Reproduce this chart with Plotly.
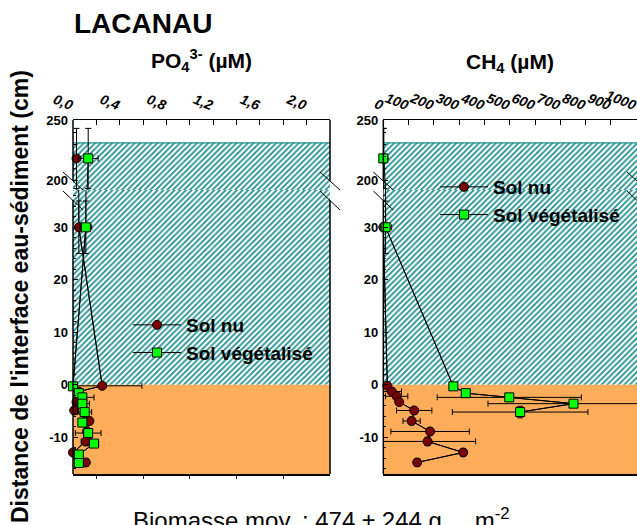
import numpy as np
import plotly.graph_objects as go

# ------------------------------------------------------------------ data
series_names = ["Sol nu", "Sol végétalisé"]

depth_nu = [218, 30, -0.2, -1.3, -2.2, -3.3, -4.9, -6.9, -8.9, -10.8, -12.9, -14.8]
depth_nu_err = [25, 5, 0, 0.3, 0.3, 0.3, 0.7, 0.7, 0.7, 0.8, 0.7, 0.7]
po4_nu = [0.03, 0.05, 0.25, 0.05, 0.07, 0.03, 0.01, 0.14, 0.12, 0.11, 0.0, 0.11]
po4_nu_err = [0, 0, 0.34, 0.02, 0.02, 0.02, 0.02, 0.02, 0.02, 0.04, 0.02, 0.02]
ch4_nu = [2, 0, 16, 34, 53, 63, 122, 112, 185, 175, 316, 134]
ch4_nu_err = [0, 0, 0, 38, 44, 0, 70, 34, 155, 190, 0, 0]

depth_veg = [218, 30, -0.3, -1.6, -2.4, -3.6, -5.2, -7.2, -9.2, -11.2, -13.3, -14.9]
depth_veg_err = [25, 5, 0, 0, 0, 0, 1.1, 0, 0, 0, 0, 0]
po4_veg = [0.13, 0.11, 0.0, 0.05, 0.08, 0.08, 0.10, 0.08, 0.13, 0.18, 0.05, 0.05]
po4_veg_err = [0.085, 0.05, 0, 0.03, 0.10, 0.06, 0.06, 0.03, 0.11, 0.04, 0.03, 0.02]
ch4_veg = [0, 9, 277, 326, 498, 752, 541, None, None, None, None, None]
ch4_veg_err = [0, 24, 0, 0, 285, 338, 268, None, None, None, None, None]

water_surface = 231      # cm above the sediment interface
sediment_bottom = -17    # cm

po4_ticks = [0.0, 0.4, 0.8, 1.2, 1.6, 2.0]
po4_ticklabels = ["0,0", "0,4", "0,8", "1,2", "1,6", "2,0"]
ch4_ticks = [0, 100, 200, 300, 400, 500, 600, 700, 800, 900, 1000]
ch4_ticklabels = ["0", "100", "200", "300", "400", "500", "600", "700", "800", "900", "1000"]
water_yticks = [200, 250]
sed_yticks = [-10, 0, 10, 20, 30]

# ------------------------------------------------------------------ layout helpers
W, H = 637, 525
def px_x(p):
    return p / W
def px_y(p):
    return 1 - p / H

FONT = "Liberation Sans, Arial, sans-serif"
RED = "#7A0000"
GREEN = "#00FF00"
ORANGE = "#FFAD5B"
TEAL = "#1F8F8F"

po4_range = [0, 2.2]
ch4_range = [0, 1003]
water_range = [191.7, 250]
sed_range = [sediment_bottom, 37.1]

panels = {
    "po4": dict(xdom=[px_x(73), px_x(330)], xr=po4_range, top=("x", "y"), bot=("x2", "y2")),
    "ch4": dict(xdom=[px_x(383.3), 1.0], xr=ch4_range, top=("x3", "y3"), bot=("x4", "y4")),
}
top_dom = [px_y(190), px_y(120)]
bot_dom = [px_y(474), px_y(190)]

fig = go.Figure()

# backgrounds: hatched water column, orange sediment
for key, p in panels.items():
    x0, x1 = p["xr"]
    for (xa, ya), yr in ((p["top"], water_range), (p["bot"], sed_range)):
        lo = max(yr[0], 0)
        hi = min(yr[1], water_surface)
        if hi > lo:
            fig.add_trace(go.Scatter(
                x=[x0, x1, x1, x0, x0], y=[lo, lo, hi, hi, lo], mode="lines",
                fill="toself", line=dict(width=0), fillcolor="white",
                fillpattern=dict(shape="/", fgcolor=TEAL, bgcolor="white", size=4, solidity=0.45),
                xaxis=xa, yaxis=ya, showlegend=False, hoverinfo="skip"))
        if yr[0] < 0:
            fig.add_trace(go.Scatter(
                x=[x0, x1, x1, x0, x0], y=[yr[0], yr[0], 0, 0, yr[0]], mode="lines",
                fill="toself", line=dict(width=0), fillcolor=ORANGE,
                xaxis=xa, yaxis=ya, showlegend=False, hoverinfo="skip"))
        if yr[0] <= water_surface <= yr[1]:
            fig.add_trace(go.Scatter(
                x=[x0, x1], y=[water_surface, water_surface], mode="lines",
                line=dict(color=TEAL, width=1.2), xaxis=xa, yaxis=ya,
                showlegend=False, hoverinfo="skip"))

def add_series(key, xs, xerr, ys, yerr, name, color, symbol, legend):
    p = panels[key]
    xs_a = np.array([np.nan if v is None else v for v in xs], dtype=float)
    xe_a = np.array([0 if v is None else v for v in xerr], dtype=float)
    ys_a = np.array(ys, dtype=float)
    ye_a = np.array(yerr, dtype=float)
    for (xa, ya), yr, part in ((p["top"], water_range, "top"), (p["bot"], sed_range, "bot")):
        # full line, clipped to subplot
        fig.add_trace(go.Scatter(x=xs_a, y=ys_a, mode="lines", line=dict(color="black", width=1),
                                 xaxis=xa, yaxis=ya, showlegend=False, hoverinfo="skip",
                                 connectgaps=False))
        m = (ys_a >= yr[0]) & (ys_a <= yr[1]) & ~np.isnan(xs_a)
        fig.add_trace(go.Scatter(
            x=xs_a[m], y=ys_a[m], mode="markers",
            marker=dict(size=1, color="rgba(0,0,0,0)"),
            error_x=dict(type="data", array=xe_a[m], color="black", thickness=1, width=3),
            error_y=dict(type="data", array=ye_a[m], color="black", thickness=1, width=3),
            xaxis=xa, yaxis=ya, showlegend=False, hoverinfo="skip", cliponaxis=True))
        fig.add_trace(go.Scatter(
            x=xs_a[m], y=ys_a[m], mode="lines+markers", name=name,
            line=dict(color="black", width=1),
            marker=dict(size=9, symbol=symbol, color=color, line=dict(color="black", width=1)),
            xaxis=xa, yaxis=ya, cliponaxis=False, legend=legend,
            showlegend=(part == "bot")))

add_series("po4", po4_nu, po4_nu_err, depth_nu, depth_nu_err, series_names[0], RED, "circle", "legend")
add_series("po4", po4_veg, po4_veg_err, depth_veg, depth_veg_err, series_names[1], GREEN, "square", "legend")
add_series("ch4", ch4_nu, ch4_nu_err, depth_nu, depth_nu_err, series_names[0], RED, "circle", "legend2")
add_series("ch4", ch4_veg, ch4_veg_err, depth_veg, depth_veg_err, series_names[1], GREEN, "square", "legend2")

tick_font = dict(family=FONT, size=13, color="black", weight="bold")
xtick_font = dict(family=FONT, size=14, color="black", weight="bold", style="italic")

layout = dict(
    template="none",
    width=W, height=H, margin=dict(l=0, r=0, t=0, b=0, autoexpand=False),
    paper_bgcolor="white", plot_bgcolor="white",
    font=dict(family=FONT, color="black"),
    hovermode=False,
)

def yaxis_cfg(dom, rng, ticks, minor_dtick, anchor):
    return dict(domain=dom, range=rng, anchor=anchor, showline=False, showgrid=False, zeroline=False,
                automargin=False,
                tickvals=ticks, ticktext=[str(t) for t in ticks], ticks="inside", ticklen=5,
                tickwidth=1, tickcolor="black", tickfont=tick_font, ticklabelstandoff=4,
                minor=dict(dtick=minor_dtick, ticks="inside", ticklen=3, tickcolor="black", showgrid=False))

for key, p in panels.items():
    (xt, yt), (xb, yb) = p["top"], p["bot"]
    if key == "po4":
        tv, tt, mdt = po4_ticks, po4_ticklabels, 0.2
    else:
        tv, tt, mdt = ch4_ticks, ch4_ticklabels, 100
    xt_name = "xaxis" if xt == "x" else "xaxis" + xt[1:]
    xb_name = "xaxis" + xb[1:]
    yt_name = "yaxis" if yt == "y" else "yaxis" + yt[1:]
    yb_name = "yaxis" + yb[1:]
    layout[xt_name] = dict(domain=p["xdom"], range=p["xr"], anchor=yt, side="top", automargin=False,
                           showline=True, linecolor="black", linewidth=1.5, mirror=False,
                           showgrid=False, zeroline=False, tickvals=tv, ticktext=tt,
                           ticks="inside", ticklen=5, tickcolor="black", tickangle=22,
                           tickfont=xtick_font, ticklabelstandoff=2, ticklabeloverflow="allow",
                           minor=dict(dtick=mdt, ticks="inside", ticklen=5, tickcolor="black", showgrid=False))
    bot_ticks = [0.2, 0.6, 1.0, 1.4, 1.8] if key == "po4" else []
    layout[xb_name] = dict(domain=p["xdom"], range=p["xr"], anchor=yb, side="bottom", matches=xt,
                           automargin=False,
                           showline=True, linecolor="black", linewidth=1.5, mirror=False,
                           showgrid=False, zeroline=False, tickvals=bot_ticks, showticklabels=False,
                           ticks="outside", ticklen=3, tickcolor="black")
    layout[yt_name] = yaxis_cfg(top_dom, water_range, water_yticks, 10, xt)
    layout[yb_name] = yaxis_cfg(bot_dom, sed_range, sed_yticks, 2, xb)

legend_font = dict(family=FONT, size=19, weight="bold", color="black")
layout["legend"] = dict(x=px_x(128), y=px_y(306), xanchor="left", yanchor="top",
                        bgcolor="rgba(0,0,0,0)", font=legend_font, itemwidth=48, tracegroupgap=0)
layout["legend2"] = dict(x=px_x(435), y=px_y(168), xanchor="left", yanchor="top",
                         bgcolor="rgba(0,0,0,0)", font=legend_font, itemwidth=48, tracegroupgap=0)

# spines with the break gap and break marks
shapes = []
def seg(x0, y0, x1, y1, w=1.5):
    shapes.append(dict(type="line", xref="paper", yref="paper",
                       x0=px_x(x0), y0=px_y(y0), x1=px_x(x1), y1=px_y(y1),
                       line=dict(color="black", width=w), layer="above"))

for sx in (73, 330, 383.3):
    seg(sx, 120, sx, 181)
    seg(sx, 200, sx, 474)
for sx in (73, 330, 383.3, 637):
    seg(sx - 10, 172, sx + 10, 190, 1)
    seg(sx - 10, 191, sx + 10, 210, 1)
layout["shapes"] = shapes

annotations = [
    dict(text="<b>LACANAU</b>", x=px_x(72), y=px_y(23), xanchor="left", yanchor="middle",
         font=dict(family=FONT, size=28, color="black")),
    dict(text="<b>PO<sub>4</sub><sup>3-</sup> (µM)</b>", x=px_x(201), y=px_y(61), xanchor="center",
         yanchor="middle", font=dict(family=FONT, size=21, color="black")),
    dict(text="<b>CH<sub>4</sub> (µM)</b>", x=px_x(510), y=px_y(63), xanchor="center",
         yanchor="middle", font=dict(family=FONT, size=21, color="black")),
    dict(text="<b>Distance de l'interface eau-sédiment (cm)</b>", x=px_x(20), y=px_y(297),
         xanchor="center", yanchor="middle", textangle=-90,
         font=dict(family=FONT, size=23, color="black")),
    dict(text="Biomasse moy. : 474 ± 244 g<sub>sec</sub> m<sup>-2</sup>", x=px_x(131), y=px_y(502),
         xanchor="left", yanchor="top", font=dict(family=FONT, size=24, color="black")),
]
for a in annotations:
    a.update(xref="paper", yref="paper", showarrow=False)
layout["annotations"] = annotations

fig.update_layout(**layout)
fig.write_html("out.html", config={"displayModeBar": False, "staticPlot": True},
               post_script="document.body.style.margin='0';document.body.style.overflow='hidden';")
